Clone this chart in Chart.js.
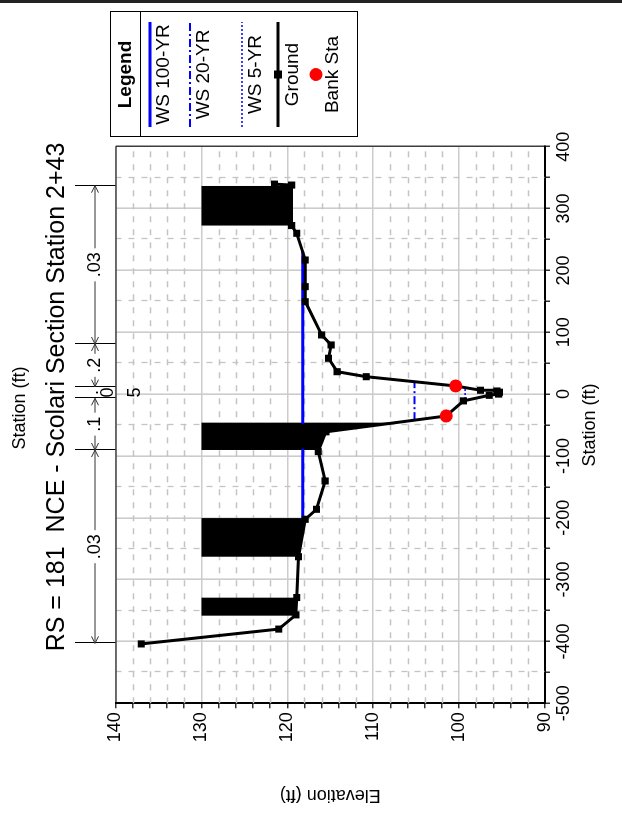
<!DOCTYPE html>
<html>
<head>
<meta charset="utf-8">
<script src="https://cdn.jsdelivr.net/npm/chart.js@4.4.0/dist/chart.umd.min.js"></script>
<style>
  html, body { margin: 0; padding: 0; background: #fff; overflow: hidden; }
  #page { position: relative; width: 622px; height: 813px; }
  #rule { position: absolute; left: 0; top: 0; width: 622px; height: 3px; background: #222; }
  /* the plot is laid out landscape and turned a quarter turn */
  #wrap { position: absolute; left: 0; top: 813px; width: 813px; height: 622px;
          transform-origin: 0 0; transform: rotate(-90deg); }
</style>
</head>
<body>
<div id="page">
  <div id="wrap"><canvas id="xs" width="813" height="622"></canvas></div>
  <div id="rule"></div>
</div>
<script>
// cross section geometry
const groundSta  = [-404, -380, -357, -329, -263, -202.5, -186.3, -140.5, -93, -61, -35.4, -11, -2, 0, 3, 5, 6.2, 13.1, 28.1, 36.2, 57.9, 79.4, 95.6, 149.4, 173.7, 216.8, 260, 272.5, 338, 339.5];
const groundElev = [137.0, 121.0, 119.0, 118.9, 118.7, 117.9, 116.6, 115.6, 116.4, 115.5, 101.5, 99.5, 96.5, 95.4, 95.3, 95.6, 97.5, 100.4, 110.8, 114.2, 115.2, 114.9, 116.0, 117.9, 117.9, 117.9, 118.9, 119.5, 119.5, 121.5];

// bank stations
const bankSta  = [-35.4, 13.1];
const bankElev = [101.5, 100.4];

// water surfaces (elevation, segment start/end stations)
const ws100Elev = 118.2;
const ws100From = [-200.5, -46.2];
const ws100To   = [-90.4, 229.8];
const ws20Elev = 105.2;
const ws20From = [-42.2];
const ws20To   = [20.0];
const ws5Elev = 99.3;
const ws5From = [-14.5];
const ws5To   = [9.4];

// blocked obstructions
const blockFrom = [-358.3, -263, -90.4, 272.5];
const blockTo   = [-329.2, -200.5, -46.2, 336.5];
const blockTop  = [130, 130, 130, 130];

// Manning's n breakpoints and values
const nBreaks = [-403, -90.4, -6.8, 12.0, 81.0, 337.0];
const nValues = ['.03', '.1', '.05', '.2', '.03'];

const FONT = "'Liberation Sans', Arial, sans-serif";

function wsPoints(elev, from, to) {
  const pts = [];
  for (let i = 0; i < from.length; i++) {
    pts.push({x: from[i], y: elev}, {x: to[i], y: elev}, {x: to[i], y: null});
  }
  return pts;
}

const groundPts = groundSta.map((s, i) => ({x: s, y: groundElev[i]}));
const bankPts = bankSta.map((s, i) => ({x: s, y: bankElev[i]}));

function arrowHead(ctx, x, y, dir) {
  ctx.beginPath();
  ctx.moveTo(x - dir * 7, y - 3.5);
  ctx.lineTo(x, y);
  ctx.lineTo(x - dir * 7, y + 3.5);
  ctx.stroke();
}

const decor = {
  id: 'decor',
  beforeDatasetsDraw(chart) {
    const {ctx, chartArea: a, scales: {x, y}} = chart;
    ctx.save();
    // dashed minor grid
    ctx.strokeStyle = '#c4c4c4';
    ctx.lineWidth = 1.3;
    ctx.setLineDash([6, 7]);
    for (let s = -450; s < 400; s += 100) {
      const px = Math.round(x.getPixelForValue(s)) + 0.5;
      ctx.beginPath(); ctx.moveTo(px, a.top); ctx.lineTo(px, a.bottom); ctx.stroke();
    }
    for (let e = 92; e < 140; e += 2) {
      if (e % 10 === 0) continue;
      const py = Math.round(y.getPixelForValue(e)) + 0.5;
      ctx.beginPath(); ctx.moveTo(a.left, py); ctx.lineTo(a.right, py); ctx.stroke();
    }
    ctx.setLineDash([]);

    // obstructions: area between ground and the block top
    ctx.fillStyle = '#000';
    for (let i = 0; i < blockFrom.length; i++) {
      const x1 = x.getPixelForValue(blockFrom[i]);
      const x2 = x.getPixelForValue(blockTo[i]);
      ctx.save();
      ctx.beginPath();
      ctx.rect(x1, a.top, x2 - x1, a.bottom - a.top);
      ctx.clip();
      ctx.beginPath();
      ctx.moveTo(x.getPixelForValue(groundSta[0]), y.getPixelForValue(blockTop[i]));
      groundSta.forEach((s, k) => ctx.lineTo(x.getPixelForValue(s), y.getPixelForValue(groundElev[k])));
      ctx.lineTo(x.getPixelForValue(groundSta[groundSta.length - 1]), y.getPixelForValue(blockTop[i]));
      ctx.closePath();
      ctx.fill();
      ctx.restore();
    }
    ctx.restore();
  },
  afterDraw(chart) {
    const {ctx, chartArea: a, scales: {x}} = chart;
    ctx.save();
    // thin frame on the open sides
    ctx.strokeStyle = '#000';
    ctx.lineWidth = 1;
    ctx.beginPath();
    ctx.moveTo(a.left, a.top + 0.5); ctx.lineTo(a.right + 0.5, a.top + 0.5); ctx.lineTo(a.right + 0.5, a.bottom);
    ctx.stroke();

    ctx.fillStyle = '#000';
    ctx.textAlign = 'center';
    ctx.textBaseline = 'middle';
    ctx.font = '18px ' + FONT;
    ctx.fillText('Station (ft)', 405, 20);
    ctx.font = '25px ' + FONT;
    ctx.fillText('RS = 181  NCE - Scolari Section Station 2+43', 416, 57);

    // n-value strip above the plot
    const nY = 95;
    ctx.strokeStyle = '#000';
    ctx.lineWidth = 1;
    nBreaks.forEach(b => {
      const px = Math.round(x.getPixelForValue(b)) + 0.5;
      ctx.beginPath(); ctx.moveTo(px, 75); ctx.lineTo(px, a.top); ctx.stroke();
    });
    ctx.font = '18px ' + FONT;
    ctx.strokeStyle = '#333';
    for (let i = 0; i < nValues.length; i++) {
      const x1 = x.getPixelForValue(nBreaks[i]);
      const x2 = x.getPixelForValue(nBreaks[i + 1]);
      const mid = (x1 + x2) / 2;
      const w = ctx.measureText(nValues[i]).width;
      if (x2 - x1 > w + 20) {
        ctx.beginPath();
        ctx.moveTo(x1, nY); ctx.lineTo(mid - w / 2 - 4, nY);
        ctx.moveTo(mid + w / 2 + 4, nY); ctx.lineTo(x2, nY);
        ctx.stroke();
        arrowHead(ctx, x1, nY, -1);
        arrowHead(ctx, x2, nY, 1);
        ctx.fillText(nValues[i], mid, nY);
      } else {
        // too narrow: characters stacked down the gap
        const chars = nValues[i].split('');
        const rows = [93, 108, 135];
        chars.forEach((c, k) => ctx.fillText(c, mid, rows[k]));
      }
    }

    // legend box
    const L = 676, R = 801, T = 110, B = 357, cx = (L + R) / 2;
    ctx.fillStyle = '#fff';
    ctx.fillRect(L, T, R - L, B - T);
    ctx.strokeStyle = '#000';
    ctx.lineWidth = 1;
    ctx.strokeRect(L + 0.5, T + 0.5, R - L, B - T);
    ctx.beginPath(); ctx.moveTo(L, 140.5); ctx.lineTo(R, 140.5); ctx.stroke();
    ctx.fillStyle = '#000';
    ctx.font = 'bold 19px ' + FONT;
    ctx.fillText('Legend', cx, 126);
    ctx.font = '19px ' + FONT;

    const sample = (yy, color, width, dash) => {
      ctx.save();
      ctx.strokeStyle = color;
      ctx.lineWidth = width;
      ctx.setLineDash(dash);
      ctx.beginPath(); ctx.moveTo(L + 10, yy); ctx.lineTo(R - 10, yy); ctx.stroke();
      ctx.restore();
    };
    sample(150, '#0000ff', 3, []);
    ctx.fillText('WS 100-YR', cx, 164);
    sample(190, '#0000ff', 2, [8, 3, 2, 3]);
    ctx.fillText('WS 20-YR', cx, 204);
    sample(242, '#0000ff', 1.5, [2, 2]);
    ctx.fillText('WS 5-YR', cx, 256);
    sample(278, '#000', 3, []);
    ctx.fillRect(cx - 4, 274, 8, 8);
    ctx.fillText('Ground', cx, 293);
    ctx.fillStyle = '#ff0000';
    ctx.beginPath(); ctx.arc(cx, 316, 6.5, 0, Math.PI * 2); ctx.fill();
    ctx.fillStyle = '#000';
    ctx.fillText('Bank Sta', cx, 333);
    ctx.restore();
  }
};

Chart.defaults.font.family = FONT;
Chart.defaults.font.size = 18;
Chart.defaults.color = '#000';

new Chart(document.getElementById('xs').getContext('2d'), {
  type: 'scatter',
  data: {
    datasets: [
      { label: 'Bank Sta', data: bankPts, showLine: false, pointRadius: 6.5, pointBorderWidth: 0,
        pointBackgroundColor: '#ff0000', pointBorderColor: '#ff0000' },
      { label: 'Ground', data: groundPts, showLine: true, borderColor: '#000', borderWidth: 3,
        pointStyle: 'rect', pointRadius: 5, pointBackgroundColor: '#000', pointBorderColor: '#000', pointBorderWidth: 0 },
      { label: 'WS 100-YR', data: wsPoints(ws100Elev, ws100From, ws100To), showLine: true, spanGaps: false,
        borderColor: '#0000ff', borderWidth: 3, borderCapStyle: 'round', pointRadius: 0 },
      { label: 'WS 20-YR', data: wsPoints(ws20Elev, ws20From, ws20To), showLine: true, spanGaps: false,
        borderColor: '#0000ff', borderWidth: 2, borderDash: [8, 3, 2, 3], pointRadius: 0 },
      { label: 'WS 5-YR', data: wsPoints(ws5Elev, ws5From, ws5To), showLine: true, spanGaps: false,
        borderColor: '#0000ff', borderWidth: 1.5, borderDash: [2, 2], pointRadius: 0 }
    ]
  },
  options: {
    responsive: false,
    animation: false,
    events: [],
    layout: { padding: { left: 0, top: 115.5, right: 146.7, bottom: 0 } },
    plugins: { legend: { display: false }, tooltip: { enabled: false } },
    scales: {
      x: {
        type: 'linear', min: -500, max: 400,
        ticks: { stepSize: 50, autoSkip: false, maxRotation: 0, maxTicksLimit: 100, padding: 3,
                 callback: v => (v % 100 === 0 ? String(v) : '') },
        grid: { color: c => (c.tick && c.tick.value % 100 === 0 ? '#cccccc' : 'rgba(0,0,0,0)'),
                lineWidth: 1.6, tickColor: '#000', tickLength: 5, tickWidth: 1.2 },
        border: { color: '#000', width: 2 },
        title: { display: true, text: 'Station (ft)', padding: { top: 0, bottom: 21 } },
        afterFit: s => { s.height = 77; s.paddingLeft = 0; s.paddingRight = 0; }
      },
      y: {
        type: 'linear', min: 90, max: 140,
        ticks: { stepSize: 2, autoSkip: false, maxTicksLimit: 100, padding: 4,
                 callback: v => (v % 10 === 0 ? String(v) : '') },
        grid: { color: c => (c.tick && c.tick.value % 10 === 0 ? '#cccccc' : 'rgba(0,0,0,0)'),
                lineWidth: 1.6, tickColor: '#000', tickLength: 5, tickWidth: 1.2 },
        border: { color: '#000', width: 2 },
        title: { display: true, text: 'Elevation (ft)', padding: { top: 7, bottom: 0 } },
        afterFit: s => { s.width = 109.7; s.paddingTop = 0; s.paddingBottom = 0; }
      }
    }
  },
  plugins: [decor]
});
</script>
</body>
</html>
